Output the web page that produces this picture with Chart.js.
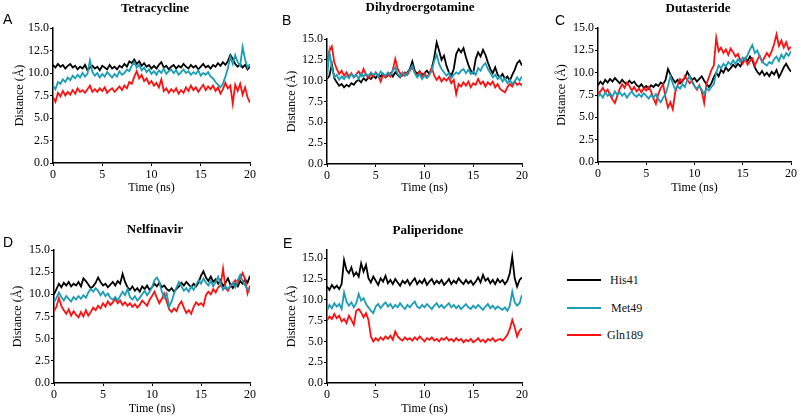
<!DOCTYPE html>
<html>
<head>
<meta charset="utf-8">
<script src="https://cdn.jsdelivr.net/npm/chart.js@4.4.1/dist/chart.umd.min.js"></script>
<style>
  body { margin: 0; background: #fff; width: 799px; height: 416px; position: relative; overflow: hidden; font-family: "Liberation Serif", serif; color: #000; }
  .painel { position: absolute; }
  .titulo { position: absolute; font-weight: bold; font-size: 13px; transform: translate(-50%, -50%); white-space: nowrap; }
  .letra { position: absolute; font-family: "Liberation Sans", sans-serif; font-size: 14px; transform: translateY(-50%); }
  .leg-linha { position: absolute; left: 567px; width: 34px; height: 2px; }
  .leg-texto { position: absolute; font-size: 12px; transform: translateY(-50%); color: #111; }
</style>
</head>
<body>

<div class="painel" style="left:0px;top:0px;width:262px;height:200px"><canvas id="graficoA"></canvas></div>
<div class="painel" style="left:265px;top:0px;width:265px;height:200px"><canvas id="graficoB"></canvas></div>
<div class="painel" style="left:530px;top:0px;width:269px;height:200px"><canvas id="graficoC"></canvas></div>
<div class="painel" style="left:0px;top:200px;width:262px;height:216px"><canvas id="graficoD"></canvas></div>
<div class="painel" style="left:265px;top:200px;width:265px;height:216px"><canvas id="graficoE"></canvas></div>

<div class="titulo" style="left:155px;top:8px">Tetracycline</div>
<div class="titulo" style="left:420px;top:7px">Dihydroergotamine</div>
<div class="titulo" style="left:698px;top:8px">Dutasteride</div>
<div class="titulo" style="left:155px;top:229px">Nelfinavir</div>
<div class="titulo" style="left:428px;top:230px">Paliperidone</div>

<div class="letra" style="left:3px;top:19px">A</div>
<div class="letra" style="left:282px;top:20px">B</div>
<div class="letra" style="left:555px;top:20px">C</div>
<div class="letra" style="left:3px;top:242px">D</div>
<div class="letra" style="left:283px;top:243px">E</div>

<div class="leg-linha" style="top:279px;background:#000000"></div>
<div class="leg-texto" style="left:610px;top:280px">His41</div>
<div class="leg-linha" style="top:307px;background:#1a9db5"></div>
<div class="leg-texto" style="left:611px;top:308px">Met49</div>
<div class="leg-linha" style="top:334px;background:#ff1010"></div>
<div class="leg-texto" style="left:607px;top:335px">Gln189</div>

<script>
// tempo de simulação (ns), amostrado a cada 0,25 ns
const tempoNs = Array.from({ length: 81 }, (_, i) => i * 0.25);

const corHis = '#000000';
const corMet = '#1a9db5';
const corGln = '#ff1010';

// A - Tetracycline
const hisA = [10.9, 10.6, 11.0, 10.7, 10.9, 10.5, 10.8, 11.0, 10.6,
  10.8, 10.4, 10.7, 10.5, 10.9, 10.3, 10.6, 10.8,
  10.5, 10.7, 10.3, 10.8, 10.6, 10.4, 10.9, 10.5,
  10.7, 10.4, 10.8, 10.6, 11.0, 10.7, 11.3, 11.1,
  11.5, 11.0, 11.3, 10.8, 11.1, 10.7, 10.9, 10.5,
  10.8, 10.5, 10.9, 11.2, 10.6, 10.8, 10.4, 10.7,
  10.9, 10.5, 10.8, 10.6, 11.0, 10.7, 10.5, 10.9,
  10.6, 10.8, 10.4, 10.7, 11.0, 10.6, 10.8, 10.5,
  10.9, 10.7, 11.1, 10.8, 11.2, 10.9, 11.3, 12.0,
  11.6, 11.0, 10.7, 11.0, 10.6, 10.9, 10.4, 10.7];
const metA = [8.6, 8.2, 9.0, 8.8, 9.3, 9.0, 9.5, 9.2, 9.7,
  9.4, 9.8, 9.5, 10.0, 9.6, 9.9, 11.4, 10.1,
  9.7, 10.0, 9.5, 9.9, 9.6, 10.1, 9.8, 9.5,
  9.9, 9.6, 10.2, 9.8, 10.0, 10.4, 10.2, 10.8,
  11.2, 10.6, 10.9, 10.3, 10.6, 10.1, 10.4, 9.9,
  10.2, 9.8, 10.3, 10.0, 10.5, 9.9, 10.2, 10.4,
  10.0, 10.3, 9.8, 10.1, 10.4, 10.0, 10.2, 9.8,
  10.1, 9.9, 10.3, 9.7, 10.0, 9.8, 10.1, 9.6,
  9.4, 9.0, 8.7, 8.4, 8.8, 9.6, 10.5, 11.8,
  11.0, 12.0, 11.2, 10.8, 12.9, 11.5, 10.6, 11.0];
const glnA = [7.3, 6.8, 7.8, 7.4, 8.0, 7.5, 7.9, 7.6, 8.1,
  7.7, 8.3, 7.9, 8.1, 7.8, 8.2, 8.6, 7.9,
  8.2, 7.9, 8.3, 8.0, 8.4, 7.8, 8.1, 8.3,
  7.9, 8.2, 8.5, 8.1, 8.6, 8.3, 9.0, 8.8,
  9.6, 10.2, 9.4, 9.8, 9.1, 9.4, 8.8, 9.1,
  8.6, 8.9, 8.4, 9.3, 8.0, 8.3, 7.8, 8.2,
  7.9, 8.3, 7.7, 8.1, 7.8, 8.4, 8.0, 8.6,
  8.1, 8.4, 7.9, 8.3, 8.7, 8.1, 8.5, 8.2,
  8.6, 8.0, 8.4, 7.7, 8.2, 8.9, 8.3, 8.6,
  6.6, 8.7, 8.0, 8.8, 7.6, 8.4, 7.3, 6.7];

// B - Dihydroergotamine
const hisB = [10.2, 10.6, 12.0, 10.3, 9.8, 9.4, 9.6, 9.2, 9.5,
  9.3, 9.7, 9.5, 9.9, 10.1, 9.8, 10.3, 10.0,
  10.4, 10.2, 10.6, 10.3, 10.7, 10.5, 10.8, 10.4,
  10.6, 10.9, 10.5, 11.0, 10.7, 10.4, 10.9, 10.6,
  11.0, 11.4, 12.3, 11.2, 10.8, 11.1, 10.7, 10.9,
  11.2, 10.8, 11.5, 12.8, 14.6, 13.6, 12.5, 13.0,
  11.8, 11.0, 10.6, 11.4, 13.2, 13.8, 13.4, 13.9,
  12.8, 11.9, 11.2, 10.9, 12.6, 13.4, 12.9, 13.7,
  13.1, 12.2, 11.4, 10.9, 11.6, 10.7, 10.4, 10.8,
  10.2, 10.5, 10.0, 10.7, 11.3, 12.1, 12.4, 11.8];
const metB = [10.3, 13.5, 11.6, 10.4, 10.7, 10.1, 10.5, 10.2, 10.6,
  10.3, 10.8, 10.4, 10.7, 10.2, 10.9, 10.5, 10.8,
  10.6, 11.0, 10.7, 10.9, 10.5, 11.1, 10.8, 10.6,
  11.0, 10.7, 11.2, 11.6, 10.8, 10.5, 11.0, 10.6,
  10.9, 11.3, 11.8, 10.9, 10.4, 10.8, 10.2, 10.6,
  10.3, 10.7, 11.2, 12.4, 13.1, 12.0, 11.4, 11.0,
  10.6, 10.9, 10.3, 10.7, 11.0, 10.8, 11.2, 11.4,
  10.9, 11.3, 10.8, 11.1, 10.7, 11.5, 11.2, 11.8,
  12.1, 11.4, 10.9, 10.4, 10.7, 10.2, 10.5, 9.9,
  10.3, 9.7, 10.1, 9.6, 9.9, 10.4, 10.0, 10.5];
const glnB = [12.4, 13.6, 14.1, 12.2, 11.4, 10.8, 11.2, 10.6, 11.0,
  10.5, 10.9, 10.4, 10.8, 11.1, 10.6, 11.4, 10.7,
  10.3, 10.8, 10.5, 11.0, 10.6, 9.9, 10.7, 10.4,
  10.8, 10.5, 11.3, 12.6, 11.4, 10.9, 10.6, 11.0,
  10.7, 11.2, 11.6, 11.0, 10.6, 11.1, 10.5, 10.9,
  10.4, 10.8, 11.6, 10.6, 10.1, 10.5, 9.9, 10.3,
  10.0, 10.4, 9.7, 10.1, 8.4, 9.6, 9.3, 9.8,
  9.4, 9.9, 9.2, 9.7, 9.5, 10.2, 9.6, 9.9,
  9.3, 9.8, 9.5, 9.9, 9.2, 9.6, 9.0, 8.8,
  8.6, 9.2, 9.6, 9.3, 9.9, 9.5, 9.7, 9.4];

// C - Dutasteride
const hisC = [8.6, 9.0, 8.7, 9.2, 8.9, 9.3, 9.0, 9.4, 9.1,
  8.8, 9.2, 8.9, 8.7, 9.1, 8.8, 9.0, 8.6,
  8.4, 8.7, 8.3, 8.5, 8.2, 8.6, 8.4, 8.7,
  8.5, 8.9, 8.7, 9.2, 10.4, 9.8, 9.3, 8.9,
  9.2, 8.8, 9.1, 9.4, 10.1, 9.6, 9.2, 9.4,
  9.0, 9.3, 9.6, 9.1, 8.7, 8.4, 8.8, 9.5,
  10.0, 9.6, 10.3, 10.0, 10.6, 10.2, 10.5, 10.9,
  10.6, 11.0, 10.7, 11.2, 11.6, 11.3, 11.8, 11.4,
  10.6, 10.1, 9.8, 10.2, 9.7, 10.0, 9.6, 10.1,
  9.8, 10.3, 9.5, 10.0, 10.6, 11.0, 10.5, 10.1];
const metC = [7.3, 7.6, 7.2, 7.8, 7.4, 7.7, 7.3, 7.9, 7.5,
  7.8, 7.4, 7.7, 7.2, 7.6, 7.9, 7.5, 7.3,
  7.6, 7.3, 7.7, 7.4, 7.1, 7.5, 7.2, 7.6,
  7.0, 6.7, 7.2, 7.6, 8.5, 9.6, 8.8, 8.1,
  8.5, 8.2, 8.7, 8.4, 9.2, 9.6, 8.9, 8.5,
  8.2, 8.5, 8.1, 7.6, 8.3, 8.0, 8.4, 8.7,
  10.0, 10.8, 10.5, 11.0, 10.7, 11.2, 10.9, 11.4,
  11.0, 11.5, 11.2, 11.7, 11.4, 12.0, 12.6, 13.1,
  12.2, 12.5, 11.8, 11.3, 11.0, 10.8, 11.2, 11.0,
  11.5, 11.8, 11.3, 12.0, 11.6, 12.2, 11.9, 12.4];
const glnC = [7.6, 7.9, 8.3, 7.8, 8.1, 7.5, 7.0, 6.6, 7.4,
  8.2, 8.7, 8.3, 8.9, 8.5, 8.0, 8.4, 7.9,
  8.2, 7.8, 8.3, 8.0, 8.4, 7.9, 7.1, 6.5,
  7.6, 8.3, 8.7, 7.2, 6.1, 6.7, 5.9, 7.8,
  8.6, 9.3, 9.0, 9.6, 9.2, 8.8, 9.1, 8.5,
  8.1, 8.6, 7.9, 6.6, 8.8, 9.5, 10.3, 10.8,
  13.9, 12.4, 12.8, 12.2, 12.6, 12.0, 12.7, 12.3,
  11.8, 12.1, 11.4, 11.0, 11.6, 10.9, 11.3, 11.6,
  10.8, 11.4, 11.9, 11.2, 11.7, 12.2, 11.8, 12.4,
  13.2, 14.3, 13.0, 13.6, 12.8, 13.4, 12.6, 12.9];

// D - Nelfinavir
const hisD = [10.0, 10.6, 11.2, 10.8, 11.3, 11.0, 11.4, 10.9, 11.2,
  11.0, 11.4, 10.9, 11.8, 11.5, 11.1, 10.7, 10.9,
  11.3, 11.9, 11.4, 11.0, 11.2, 10.8, 11.1, 11.4,
  11.0, 11.5, 11.2, 12.3, 11.4, 10.8, 10.5, 10.9,
  10.4, 10.7, 10.3, 10.9, 10.6, 11.0, 10.5, 10.8,
  11.2, 10.9, 11.3, 10.8, 11.0, 10.6, 10.4, 10.7,
  10.3, 10.6, 10.9, 11.3, 11.0, 11.4, 11.1, 10.8,
  11.2, 10.9, 11.3, 12.1, 12.6, 11.9, 11.5, 12.0,
  11.4, 11.7, 11.2, 11.6, 10.9, 11.3, 11.8, 11.1,
  10.7, 11.2, 10.9, 11.5, 11.2, 11.7, 11.3, 12.1];
const metD = [9.1, 9.6, 10.2, 9.7, 9.3, 9.8, 9.5, 9.2, 9.7,
  9.4, 9.8, 9.5, 9.9, 9.6, 10.2, 10.6, 10.3,
  10.7, 10.4, 9.9, 10.3, 9.8, 10.1, 9.6, 9.4,
  9.7, 9.3, 9.8, 10.3, 9.9, 10.6, 9.7, 9.4,
  9.8, 9.3, 9.6, 10.0, 10.4, 9.9, 10.3, 10.8,
  11.6, 11.9, 11.4, 10.3, 9.6, 10.1, 8.6, 9.2,
  10.1, 10.8, 11.4, 10.9, 10.4, 10.7, 10.3, 10.9,
  10.5, 11.1, 11.6, 11.2, 11.8, 11.3, 11.0, 11.5,
  10.9, 11.4, 12.0, 11.2, 10.5, 10.9, 10.6, 11.0,
  11.3, 10.8, 11.6, 12.2, 11.5, 11.0, 10.6, 10.4];
const glnD = [8.1, 8.6, 9.6, 8.7, 8.2, 7.8, 8.3, 7.6, 8.1,
  7.7, 7.4, 8.0, 7.5, 8.2, 7.6, 8.0, 8.5,
  8.2, 8.7, 8.4, 9.0, 8.6, 9.2, 8.8, 9.1,
  9.5, 9.0, 9.3, 8.8, 9.1, 8.7, 9.0, 8.6,
  8.9, 8.5, 8.8, 9.3, 9.0, 8.7, 9.4, 9.8,
  10.3, 9.6, 9.0, 9.5, 10.1, 9.2, 8.3, 8.0,
  8.4, 8.1, 8.8, 9.2, 8.5, 7.9, 8.2, 7.8,
  8.6, 9.1, 8.8, 9.0, 8.7, 9.9, 10.3, 10.0,
  10.6, 10.2, 10.8, 11.0, 12.9, 10.7, 10.4, 10.9,
  11.2, 11.6, 11.3, 11.8, 12.4, 11.7, 10.1, 11.0];

// E - Paliperidone
const hisE = [11.6, 11.2, 11.8, 11.4, 11.7, 11.3, 11.9, 14.8, 13.6,
  13.2, 13.9, 12.9, 13.3, 12.8, 14.4, 13.4, 14.2,
  12.6, 12.1, 12.8, 12.3, 11.8, 12.6, 12.2, 12.9,
  12.0, 12.4, 11.9, 12.5, 12.1, 11.7, 12.3, 12.0,
  12.4, 11.8, 12.2, 12.6, 11.9, 12.3, 12.0, 12.5,
  11.8, 12.2, 12.5, 11.9, 12.3, 12.0, 12.4, 11.8,
  12.1, 12.5, 11.9, 12.3, 12.0, 12.6, 12.2, 11.9,
  12.4, 12.0, 12.3, 11.8, 12.2, 12.7, 12.1, 13.0,
  12.3, 12.6, 12.0, 12.4, 11.9, 12.5, 12.1, 12.4,
  11.9, 12.3, 13.2, 15.2, 12.6, 11.6, 12.4, 12.7];
const metE = [8.7, 9.4, 9.0, 9.6, 9.2, 9.5, 8.9, 10.9, 9.8,
  9.3, 9.7, 9.1, 9.6, 10.7, 9.9, 10.2, 9.5,
  9.1, 8.7, 8.4, 9.2, 9.5, 9.0, 9.4, 9.7,
  9.2, 9.5, 9.0, 9.4, 9.1, 9.6, 9.2, 8.9,
  9.4, 9.1, 9.5, 9.8, 9.2, 9.0, 9.4, 9.1,
  9.5, 9.2, 8.9, 9.3, 9.6, 9.1, 9.4, 9.0,
  9.3, 9.6, 9.1, 9.4, 9.0, 9.3, 8.9, 9.2,
  9.5, 9.1, 8.9, 9.3, 9.0, 9.4, 9.1, 8.8,
  9.2, 9.5, 9.0, 9.3, 8.9, 9.2, 9.0, 8.8,
  9.1, 8.7, 9.3, 11.0, 9.7, 9.3, 9.6, 10.6];
const glnE = [7.5, 8.0, 7.7, 8.3, 7.8, 8.1, 7.4, 7.7, 7.2,
  8.1, 7.6, 7.0, 8.7, 8.9, 8.5, 7.9, 8.4,
  7.6, 5.6, 5.0, 5.4, 5.1, 5.5, 5.2, 5.6,
  5.3, 5.7, 5.2, 6.2, 5.6, 5.3, 5.1, 5.5,
  5.2, 5.4, 5.1, 5.5, 5.2, 5.6, 5.3, 5.0,
  5.4, 5.2, 5.5, 5.1, 5.3, 5.0, 5.4, 5.2,
  5.5, 5.1, 5.3, 5.0, 5.4, 5.1, 5.3, 4.9,
  5.2, 5.0, 5.3, 4.9, 5.1, 5.4, 5.0, 5.2,
  4.9, 5.3, 5.1, 5.4, 5.0, 5.2, 5.3, 5.1,
  5.4, 5.8, 6.5, 7.6, 6.7, 5.6, 6.3, 6.6];

const fonteEixo = { family: 'Liberation Serif', size: 12 };

function pontos(valores) {
  return valores.map((v, i) => ({ x: tempoNs[i], y: v }));
}

function criarPainel(id, his, met, gln, cfg) {
  const canvas = document.getElementById(id);
  return new Chart(canvas, {
    type: 'line',
    data: {
      datasets: [
        { label: 'Met49', data: pontos(met), borderColor: corMet, order: 0 },
        { label: 'Gln189', data: pontos(gln), borderColor: corGln, order: 1 },
        { label: 'His41', data: pontos(his), borderColor: corHis, order: 2 }
      ]
    },
    options: {
      animation: false,
      responsive: true,
      maintainAspectRatio: false,
      layout: { padding: { top: cfg.topo, right: cfg.direita, left: 0, bottom: 0 } },
      plugins: { legend: { display: false }, tooltip: { enabled: false } },
      elements: { point: { radius: 0 }, line: { borderWidth: 1.8, tension: 0 } },
      scales: {
        x: {
          type: 'linear', min: 0, max: 20,
          afterFit: (s) => { s.height = cfg.altX; },
          border: { display: true, color: '#000', width: 1.5 },
          grid: { drawOnChartArea: false, tickLength: 3, color: '#000' },
          ticks: { stepSize: 5, padding: 2, color: '#000', font: fonteEixo, maxRotation: 0 },
          title: { display: true, text: 'Time (ns)', color: '#000', font: fonteEixo, padding: { top: 0, bottom: cfg.padTituloX } }
        },
        y: {
          min: 0, max: cfg.ymax,
          afterFit: (s) => { s.width = cfg.largY; },
          border: { display: true, color: '#000', width: 1.5 },
          grid: { drawOnChartArea: false, tickLength: 3, color: '#000' },
          ticks: { stepSize: 2.5, includeBounds: false, padding: 1, color: '#000', font: fonteEixo,
            callback: (v) => v.toFixed(1) },
          title: { display: true, text: 'Distance (Å)', color: '#000', font: fonteEixo, padding: { top: cfg.padTituloY, bottom: 0 } }
        }
      }
    }
  });
}

const graficoA = criarPainel('graficoA', hisA, metA, glnA, { topo: 28, direita: 12, largY: 53, altX: 37, ymax: 15, padTituloX: 5, padTituloY: 13 });
const graficoB = criarPainel('graficoB', hisB, metB, glnB, { topo: 39, direita: 8, largY: 62, altX: 36, ymax: 15, padTituloX: 5, padTituloY: 20 });
const graficoC = criarPainel('graficoC', hisC, metC, glnC, { topo: 28, direita: 6, largY: 68, altX: 38, ymax: 15, padTituloX: 5, padTituloY: 25 });
const graficoD = criarPainel('graficoD', hisD, metD, glnD, { topo: 50, direita: 12, largY: 54, altX: 33, ymax: 15, padTituloX: 0, padTituloY: 11 });
const graficoE = criarPainel('graficoE', hisE, metE, glnE, { topo: 50, direita: 8, largY: 62, altX: 33, ymax: 16, padTituloX: 0, padTituloY: 20 });
</script>
</body>
</html>
